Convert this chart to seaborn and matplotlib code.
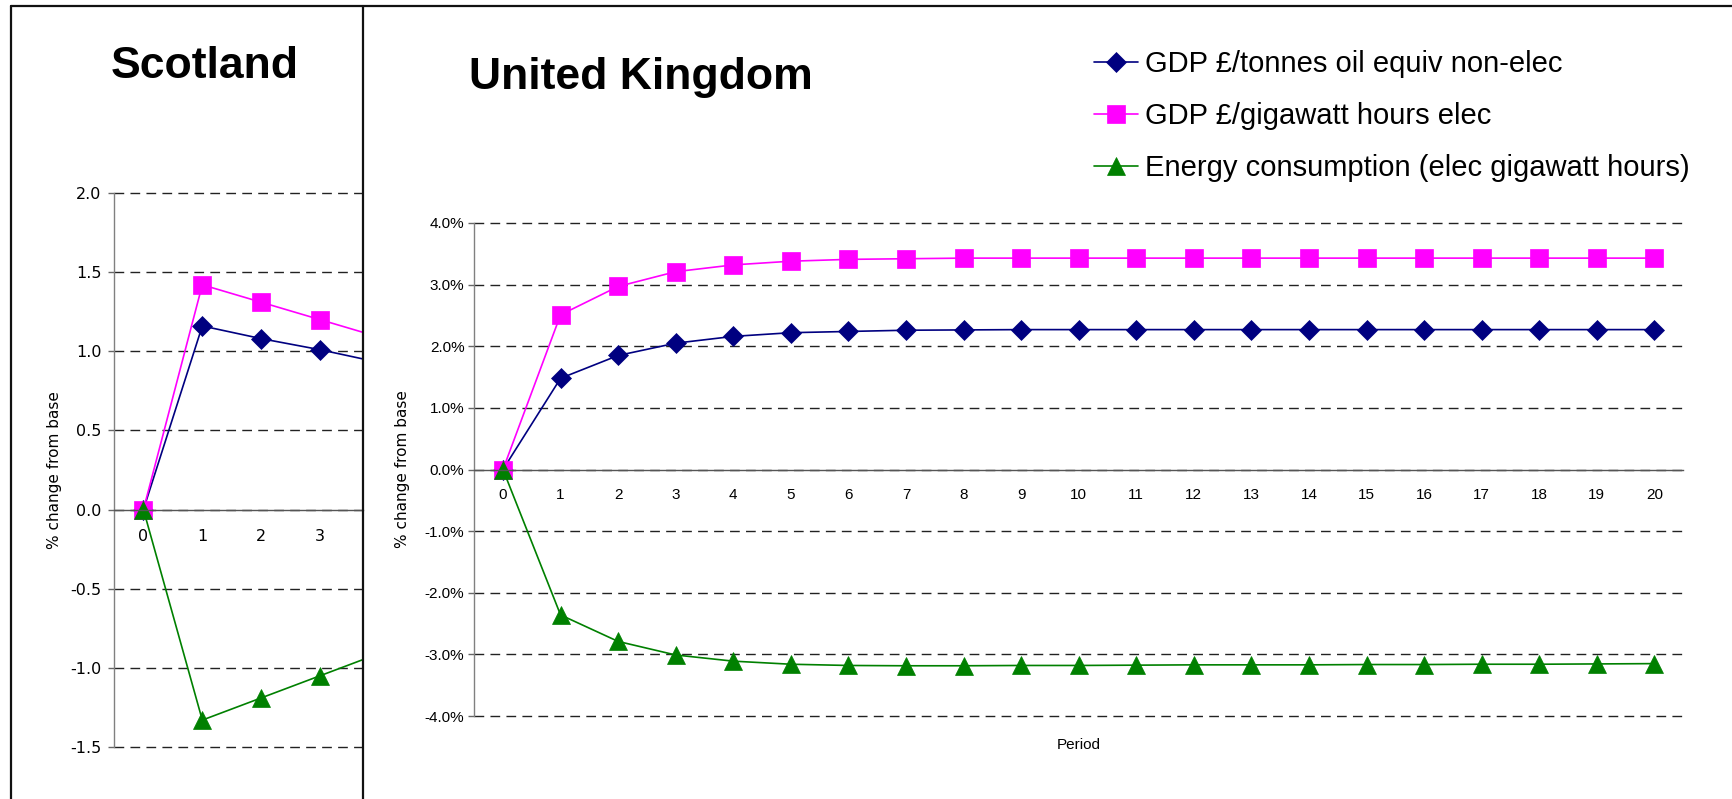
import numpy as np
import matplotlib
matplotlib.use("Agg")
import matplotlib.pyplot as plt
from matplotlib.lines import Line2D
from matplotlib.ticker import FixedLocator, PercentFormatter, FormatStrFormatter
import seaborn as sns

# ---- data: % change from base by period ----
uk_periods = list(range(21))
uk_gdp_nonelec = [0.0, 1.48, 1.85, 2.05, 2.16, 2.22, 2.24, 2.26, 2.265, 2.27, 2.27,
                  2.27, 2.27, 2.27, 2.27, 2.27, 2.27, 2.27, 2.27, 2.27, 2.27]
uk_gdp_elec = [0.0, 2.51, 2.97, 3.21, 3.32, 3.38, 3.41, 3.42, 3.43, 3.43, 3.43,
               3.43, 3.43, 3.43, 3.43, 3.43, 3.43, 3.43, 3.43, 3.43, 3.43]
uk_energy = [0.0, -2.36, -2.79, -3.01, -3.11, -3.16, -3.18, -3.185, -3.185, -3.18, -3.18,
             -3.175, -3.17, -3.17, -3.17, -3.165, -3.165, -3.16, -3.16, -3.155, -3.15]

sc_periods = [0, 1, 2, 3, 4]
sc_gdp_nonelec = [0.0, 1.16, 1.08, 1.01, 0.93]
sc_gdp_elec = [0.0, 1.42, 1.31, 1.20, 1.09]
sc_energy = [0.0, -1.33, -1.19, -1.05, -0.91]

series_labels = ["GDP £/tonnes oil equiv non-elec",
                 "GDP £/gigawatt hours elec",
                 "Energy consumption (elec gigawatt hours)"]
series_colors = ["#000080", "#FF00FF", "#008000"]
series_markers = ["D", "s", "^"]
series_msizes = [10, 12.5, 13]

sns.set_style("white")
plt.rcParams["font.family"] = ["Liberation Sans", "DejaVu Sans"]
plt.rcParams["axes.unicode_minus"] = False
plt.rcParams["text.color"] = "black"
plt.rcParams["axes.labelcolor"] = "black"
plt.rcParams["xtick.color"] = "black"
plt.rcParams["ytick.color"] = "black"

W, H = 1733, 799
fig = plt.figure(figsize=(W / 100, H / 100), dpi=100)

ax_sc = fig.add_axes([114 / W, 52 / H, 249 / W, 554 / H])
ax_uk = fig.add_axes([474.2 / W, 83 / H, 1209 / W, 493 / H])


def draw_series(ax, x, ys):
    for y, lab, c, m, ms in zip(ys, series_labels, series_colors,
                                series_markers, series_msizes):
        sns.lineplot(x=x, y=y, ax=ax, color=c, marker=m, markersize=ms,
                     markeredgecolor=c, markeredgewidth=0.5, linewidth=1.2,
                     label=lab, legend=False)


def style_axes(ax, n_right):
    ax.set_axisbelow(True)
    ax.yaxis.grid(True, linestyle=(0, (7, 4.5)), color="#222222", linewidth=1.0)
    ax.xaxis.grid(False)
    for s in ("top", "right"):
        ax.spines[s].set_visible(False)
    ax.spines["left"].set_color("#808080")
    ax.spines["left"].set_linewidth(1.0)
    ax.spines["bottom"].set_position(("data", 0))
    ax.spines["bottom"].set_color("#555555")
    ax.spines["bottom"].set_linewidth(1.0)
    ax.xaxis.set_minor_locator(FixedLocator(np.arange(-0.5, n_right + 0.6, 1.0)))
    ax.tick_params(axis="x", which="major", length=0)
    ax.tick_params(axis="x", which="minor", length=4, width=1,
                   color="#666666", direction="out")
    ax.tick_params(axis="y", which="major", length=4, width=1,
                   color="#666666", direction="out", left=True)
    ax.set_xlabel("")
    ax.set_ylabel("")


def unclip_grid(ax):
    for gl in ax.get_ygridlines():
        gl.set_clip_on(False)


# ---- Scotland panel ----
draw_series(ax_sc, sc_periods, [sc_gdp_nonelec, sc_gdp_elec, sc_energy])
style_axes(ax_sc, 3)
ax_sc.set_xlim(-0.5, 3.73)
ax_sc.set_ylim(-1.5, 2.0)
ax_sc.set_xticks([0, 1, 2, 3])
ax_sc.set_yticks(np.arange(-1.5, 2.01, 0.5))
ax_sc.yaxis.set_major_formatter(FormatStrFormatter("%.1f"))
ax_sc.tick_params(axis="x", which="major", pad=14, labelsize=11.5,
                  labelfontfamily="DejaVu Sans")
ax_sc.tick_params(axis="y", which="major", pad=5, labelsize=11.5,
                  labelfontfamily="DejaVu Sans")
ax_sc.set_ylabel("% change from base", fontsize=11, family="DejaVu Sans",
                 ha="center", va="center")
ax_sc.yaxis.set_label_coords(-59 / 249, 0.5)
unclip_grid(ax_sc)

# ---- United Kingdom panel ----
draw_series(ax_uk, uk_periods, [uk_gdp_nonelec, uk_gdp_elec, uk_energy])
style_axes(ax_uk, 20)
ax_uk.set_xlim(-0.5, 20.5)
ax_uk.set_ylim(-4.0, 4.0)
ax_uk.set_xticks(uk_periods)
ax_uk.set_yticks(np.arange(-4.0, 4.01, 1.0))
ax_uk.yaxis.set_major_formatter(PercentFormatter(xmax=100, decimals=1))
ax_uk.tick_params(axis="x", which="major", pad=13, labelsize=11)
ax_uk.tick_params(axis="y", which="major", pad=3, labelsize=11)
ax_uk.set_ylabel("% change from base", fontsize=11, family="DejaVu Sans",
                 ha="center", va="center")
ax_uk.yaxis.set_label_coords(-72 / 1209, 0.5)
ax_uk.set_xlabel("Period", fontsize=11, ha="center", va="center")
ax_uk.xaxis.set_label_coords(0.5, -29 / 493)
unclip_grid(ax_uk)

handles = ax_uk.get_lines()[:3]
ax_uk.legend(handles=handles, labels=series_labels, loc="upper left",
             bbox_to_anchor=(1094 / W, 1 - 50 / H), bbox_transform=fig.transFigure,
             frameon=False, prop={"family": "Liberation Sans", "size": 21},
             handlelength=1.5, handletextpad=0.25, labelspacing=0.82,
             borderpad=0, borderaxespad=0)

# ---- titles ----
fig.text(205 / W, 1 - 67 / H, "Scotland", ha="center", va="center",
         fontsize=32, fontweight="bold", family="Liberation Sans")
fig.text(641 / W, 1 - 78 / H, "United Kingdom", ha="center", va="center",
         fontsize=32, fontweight="bold", family="Liberation Sans")

# ---- panel frame lines ----
frame_kw = dict(transform=fig.transFigure, color="#111111", linewidth=1.6)
fig.add_artist(Line2D([11 / W, 11 / W], [0, 1 - 6 / H], **frame_kw))
fig.add_artist(Line2D([363 / W, 363 / W], [0, 1 - 6 / H], **frame_kw))
fig.add_artist(Line2D([11 / W, 1.0], [1 - 6 / H, 1 - 6 / H], **frame_kw))

fig.savefig("out.png", dpi=100)
